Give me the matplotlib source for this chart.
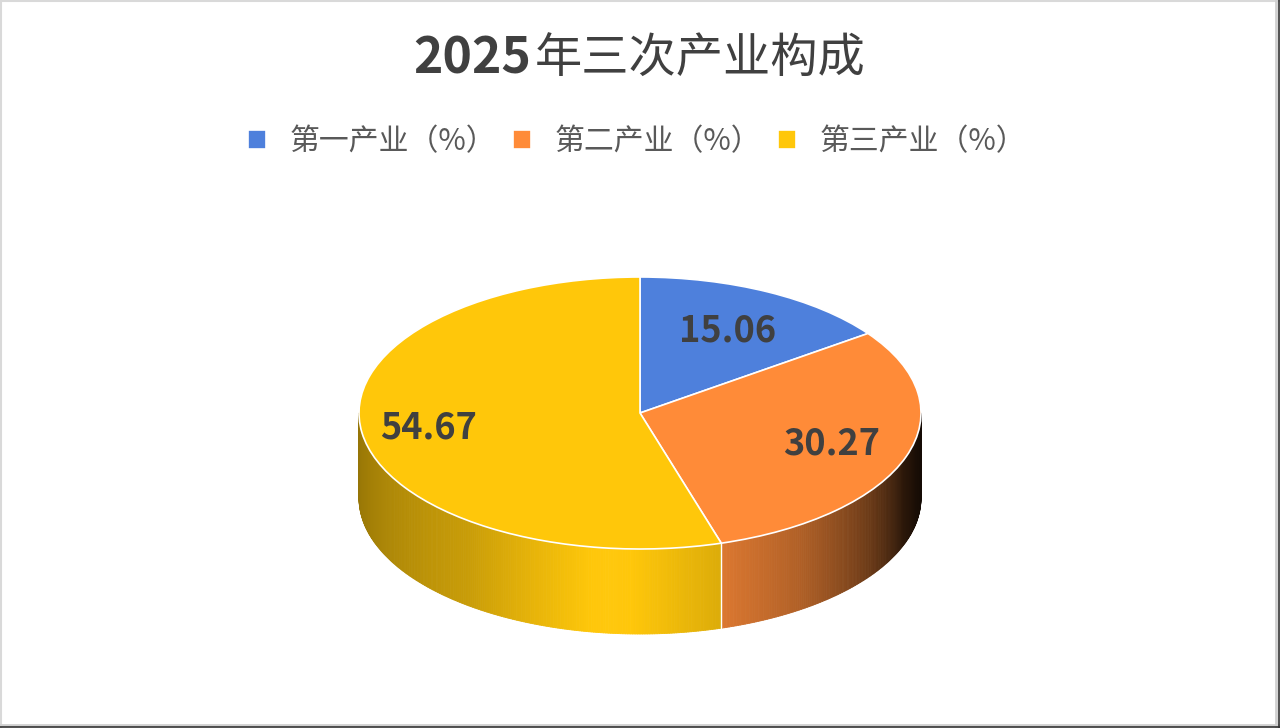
import matplotlib
matplotlib.use("Agg")
import matplotlib.pyplot as plt
from matplotlib.collections import PolyCollection
import matplotlib.colors as mcolors
import numpy as np

plt.rcParams['font.family'] = ['Noto Sans CJK SC', 'DejaVu Sans']

# data
title_year = "2025"
title_rest = "年三次产业构成"
categories = ["第一产业（%）", "第二产业（%）", "第三产业（%）"]
values = [15.06, 30.27, 54.67]
colors = ["#4E80DC", "#FF8B38", "#FFC70A"]

W, H = 1280, 728
fig = plt.figure(figsize=(W / 100, H / 100), dpi=100)
fig.patch.set_facecolor("white")
ax = fig.add_axes([0, 0, 1, 1])

# pie geometry in pixels (ellipse centre, semi-axes, side depth)
cx, cy, a_px, b_px, depth_px = 640, 413, 281, 136, 85
depth = depth_px / b_px

# side wall of the 3D pie, drawn as thin shaded strips
cum = np.concatenate([[0], np.cumsum(values)]) / np.sum(values)
shade_t = [180, 192, 233, 264, 286, 305, 325, 340, 350, 360]
shade_v = [0.58, 0.62, 0.79, 1.03, 0.87, 0.69, 0.42, 0.17, 0.10, 0.08]
ts = np.linspace(180, 360, 361)
polys, fcs = [], []
for t1, t2 in zip(ts[:-1], ts[1:]):
    tm = 0.5 * (t1 + t2)
    frac = ((90 - tm) % 360) / 360
    idx = min(np.searchsorted(cum, frac, side="right") - 1, len(values) - 1)
    base = np.array(mcolors.to_rgb(colors[idx]))
    s = np.interp(tm, shade_t, shade_v)
    col = np.clip(base * s, 0, 1)
    if s > 1:
        col = np.clip(base + (1 - base) * (s - 1) * 0.5, 0, 1)
    r1, r2 = np.radians(t1), np.radians(t2)
    polys.append([(np.cos(r1), np.sin(r1)), (np.cos(r2), np.sin(r2)),
                  (np.cos(r2), np.sin(r2) - depth), (np.cos(r1), np.sin(r1) - depth)])
    fcs.append(col)
ax.add_collection(PolyCollection(polys, facecolors=fcs, edgecolors=fcs, linewidths=0.6))

# white seams on the side where slices meet
for c in cum[1:-1]:
    ang = np.radians(90 - 360 * c)
    if np.sin(ang) < 0:
        ax.plot([np.cos(ang)] * 2, [np.sin(ang), np.sin(ang) - depth],
                color="white", lw=1.0, zorder=3)

# top face
wedges, _ = ax.pie(values, colors=colors, startangle=90, counterclock=False,
                   wedgeprops=dict(edgecolor="white", linewidth=1.2))

# value labels
label_r = [0.68, 0.72, 0.76]
for i, v in enumerate(values):
    mid = np.radians(90 - 360 * (cum[i] + cum[i + 1]) / 2)
    ax.text(label_r[i] * np.cos(mid), label_r[i] * np.sin(mid), f"{v:.2f}",
            ha="center", va="center", fontsize=26, fontweight="bold",
            color="#404040", zorder=5)

ax.set_aspect("auto")
ax.set_xlim(-cx / a_px, (W - cx) / a_px)
ax.set_ylim((cy - H) / b_px, cy / b_px)
ax.axis("off")

# title
fig.text(531 / W, 1 - 73 / H, title_year, ha="right", va="baseline",
         fontsize=36, fontweight="bold", color="#404040")
fig.text(535 / W, 1 - 73 / H, title_rest, ha="left", va="baseline",
         fontsize=34, color="#404040")

# legend
fig.legend(wedges, categories, loc="center", bbox_to_anchor=(637 / W, 1 - 142 / H),
           ncol=3, frameon=False, fontsize=21.5, labelcolor="#595959",
           handlelength=0.6, handleheight=0.6, handletextpad=0.8,
           columnspacing=0.55)

# chart border
fig.add_artist(plt.Line2D([0, 1], [0.999, 0.999], transform=fig.transFigure, color="#D9D9D9", lw=1.5))
fig.add_artist(plt.Line2D([0.001, 0.001], [0, 1], transform=fig.transFigure, color="#D9D9D9", lw=1.5))
fig.add_artist(plt.Line2D([0, 1], [0.004, 0.004], transform=fig.transFigure, color="#D0D0D0", lw=2))
fig.add_artist(plt.Line2D([0.9965, 0.9965], [0, 1], transform=fig.transFigure, color="#D0D0D0", lw=2))
fig.add_artist(plt.Line2D([0, 1], [0.001, 0.001], transform=fig.transFigure, color="#333333", lw=1.2))
fig.add_artist(plt.Line2D([0.999, 0.999], [0, 1], transform=fig.transFigure, color="#333333", lw=1.2))

fig.savefig("out.png", dpi=100, facecolor="white")
